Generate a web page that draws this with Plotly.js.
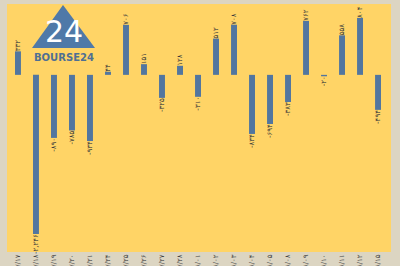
<!DOCTYPE html>
<html>
<head>
<meta charset="utf-8">
<script src="https://cdn.plot.ly/plotly-3.0.1.min.js"></script>
<style>
html,body{margin:0;padding:0;background:#dcd5c2;}
#chart{width:400px;height:266px;}
</style>
</head>
<body>
<div id="chart"></div>
<script>
const dates = ["۱۴۰۲/۰۷/۱۷","۱۴۰۲/۰۷/۱۸","۱۴۰۲/۰۷/۱۹","۱۴۰۲/۰۷/۲۰","۱۴۰۲/۰۷/۲۱","۱۴۰۲/۰۷/۲۴","۱۴۰۲/۰۷/۲۵",
  "۱۴۰۲/۰۷/۲۶","۱۴۰۲/۰۷/۲۷","۱۴۰۲/۰۷/۲۸","۱۴۰۲/۰۸/۰۱","۱۴۰۲/۰۸/۰۲","۱۴۰۲/۰۸/۰۳","۱۴۰۲/۰۸/۰۴",
  "۱۴۰۲/۰۸/۰۵","۱۴۰۲/۰۸/۰۸","۱۴۰۲/۰۸/۰۹","۱۴۰۲/۰۸/۱۰","۱۴۰۲/۰۸/۱۱","۱۴۰۲/۰۸/۱۲","۱۴۰۲/۰۸/۱۵"];
const values = [332, -2246, -890, -785, -934, 44, 706, 151, -325, 128, -310, 512, 708, -834, -694, -383, 762, -20, 558, 804, -494];

const fa = "۰۱۲۳۴۵۶۷۸۹";
function toFa(v){
  const s = Math.abs(v).toLocaleString("en-US").replace(/[0-9]/g, d => fa[+d]);
  return v < 0 ? "-" + s : s;
}

const trace = {
  type: "bar",
  x: dates,
  y: values,
  marker: {color: "#52769f"},
  text: values.map(toFa),
  textposition: "outside",
  textangle: -90,
  constraintext: "none",
  textfont: {family: "DejaVu Sans", size: 7, color: "#3a3a3a"},
  cliponaxis: false,
  hoverinfo: "none"
};

const X = px => (px - 7) / 384;
const Y = py => (252 - py) / 248;

const layout = {
  width: 400, height: 266,
  margin: {l: 7, r: 9, t: 4, b: 14},
  paper_bgcolor: "#dcd5c2",
  plot_bgcolor: "#ffd466",
  bargap: 0.67,
  showlegend: false,
  xaxis: {
    type: "category",
    range: [-0.61, 20.72],
    tickangle: -90,
    tickfont: {family: "DejaVu Sans", size: 7, color: "#444"},
    showgrid: false, zeroline: false, showline: false, ticks: ""
  },
  yaxis: {
    range: [-2500, 1000],
    showgrid: false, zeroline: false, showticklabels: false, showline: false, ticks: ""
  },
  shapes: [
    {type: "path", xref: "paper", yref: "paper",
     path: `M ${X(63)} ${Y(5)} L ${X(32)} ${Y(48)} L ${X(95)} ${Y(48)} Z`,
     fillcolor: "#4f79a8", line: {width: 0}}
  ],
  annotations: [
    {xref: "paper", yref: "paper", x: X(64), y: Y(31), text: "24", showarrow: false,
     font: {family: "DejaVu Sans", size: 30, color: "#ffffff"}, xanchor: "center", yanchor: "middle"},
    {xref: "paper", yref: "paper", x: X(63.5), y: Y(57), text: "<b>BOURSE24</b>", showarrow: false,
     font: {family: "DejaVu Sans", size: 10, color: "#4f6f93"}, xanchor: "center", yanchor: "middle"}
  ]
};

Plotly.newPlot("chart", [trace], layout, {displayModeBar: false, staticPlot: true});
</script>
</body>
</html>
